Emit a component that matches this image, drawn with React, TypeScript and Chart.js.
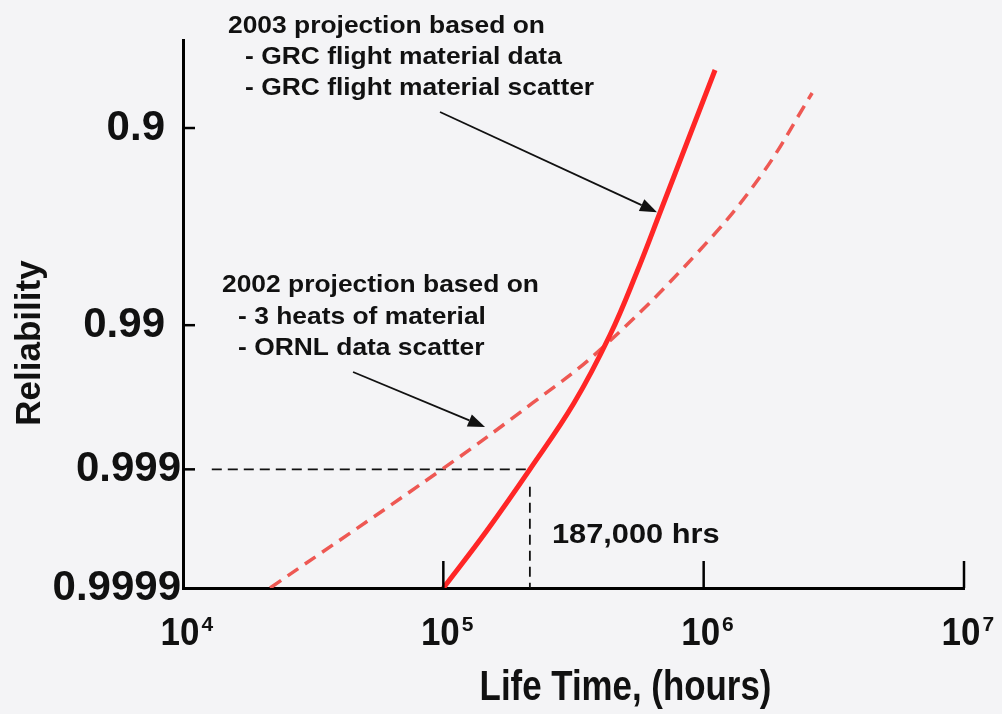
import React, { useEffect, useRef } from "react";
import { Chart, registerables } from "chart.js";

Chart.register(...registerables);

// ---------- data ----------
// 2003 projection (solid red)
const solidHours = [1.0e5, 1.471e5, 2.15e5, 3.176e5, 4.367e5, 5.521e5, 6.857e5, 8.706e5, 1.106e6];
const solidReliability = [0.9999, 0.99968, 0.999, 0.99692, 0.99131, 0.97981, 0.95692, 0.9107, 0.835];
// 2002 projection (dashed red)
const dashedHours = [2.16e4, 9.88e4, 2.21e5, 4.0e5, 9.43e5, 1.646e6, 2.61e6];
const dashedReliability = [0.9999, 0.999, 0.9969, 0.993, 0.9741, 0.9383, 0.8635];

// reference (black dashed) guide lines
const guideHours = [1.29e4, 2.15e5];
const guideReliability = 0.999;
const guideVerticalReliability = [0.99927, 0.9999];

// axes
const xMin = 1e4;
const xMax = 1e7;
const xTickValues = [1e4, 1e5, 1e6, 1e7];
const xTickExponents = ["4", "5", "6", "7"];
const yAxisTopReliability = 0.7925;
const yAxisBottomReliability = 0.9999;
const yTickValues = [0.9, 0.99, 0.999, 0.9999];
const yTickLabels = ["0.9", "0.99", "0.999", "0.9999"];

// annotations
const note2003 = ["2003 projection based on", "- GRC flight material data", "- GRC flight material scatter"];
const note2002 = ["2002 projection based on", "- 3 heats of material", "- ORNL data scatter"];
const markerLabel = "187,000 hrs";
const arrowFromHours = [9.71e4, 4.5e4];
const arrowFromReliability = [0.8843, 0.99498];
const arrowToHours = [6.62e5, 1.446e5];
const arrowToReliability = [0.958, 0.99792];

// ---------- normal probability transform ----------
function probit(p: number): number {
  const a = [-3.969683028665376e1, 2.209460984245205e2, -2.759285104469687e2, 1.38357751867269e2, -3.066479806614716e1, 2.506628277459239];
  const b = [-5.447609879822406e1, 1.615858368580409e2, -1.556989798598866e2, 6.680131188771972e1, -1.328068155288572e1];
  const c = [-7.784894002430293e-3, -3.223964580411365e-1, -2.400758277161838, -2.549732539343734, 4.374664141464968, 2.938163982698783];
  const d = [7.784695709041462e-3, 3.224671290700398e-1, 2.445134137142996, 3.754408661907416];
  const pl = 0.02425;
  const ph = 1 - pl;
  if (p < pl) {
    const q = Math.sqrt(-2 * Math.log(p));
    return (((((c[0] * q + c[1]) * q + c[2]) * q + c[3]) * q + c[4]) * q + c[5]) / ((((d[0] * q + d[1]) * q + d[2]) * q + d[3]) * q + 1);
  }
  if (p <= ph) {
    const q = p - 0.5;
    const r = q * q;
    return ((((((a[0] * r + a[1]) * r + a[2]) * r + a[3]) * r + a[4]) * r + a[5]) * q) / (((((b[0] * r + b[1]) * r + b[2]) * r + b[3]) * r + b[4]) * r + 1);
  }
  const q = Math.sqrt(-2 * Math.log(1 - p));
  return -(((((c[0] * q + c[1]) * q + c[2]) * q + c[3]) * q + c[4]) * q + c[5]) / ((((d[0] * q + d[1]) * q + d[2]) * q + d[3]) * q + 1);
}

const FONT = '"Liberation Sans", Arial, Helvetica, sans-serif';

function drawText(
  ctx: CanvasRenderingContext2D,
  s: string,
  x: number,
  y: number,
  size: number,
  align: CanvasTextAlign = "left",
  hScale = 1,
  baseline: CanvasTextBaseline = "alphabetic",
  rotate = 0
) {
  ctx.save();
  ctx.font = `bold ${size}px ${FONT}`;
  ctx.fillStyle = "#111";
  ctx.textAlign = align;
  ctx.textBaseline = baseline;
  ctx.translate(x, y);
  if (rotate) ctx.rotate(rotate);
  ctx.scale(hScale, 1);
  ctx.fillText(s, 0, 0);
  ctx.restore();
}

function drawArrow(ctx: CanvasRenderingContext2D, x1: number, y1: number, x2: number, y2: number) {
  const ang = Math.atan2(y2 - y1, x2 - x1);
  const L = 17;
  const W = 6.5;
  const bx = x2 - L * Math.cos(ang);
  const by = y2 - L * Math.sin(ang);
  ctx.save();
  ctx.strokeStyle = "#111";
  ctx.fillStyle = "#111";
  ctx.lineWidth = 1.8;
  ctx.beginPath();
  ctx.moveTo(x1, y1);
  ctx.lineTo(bx, by);
  ctx.stroke();
  ctx.beginPath();
  ctx.moveTo(x2, y2);
  ctx.lineTo(bx - W * Math.sin(ang), by + W * Math.cos(ang));
  ctx.lineTo(bx + W * Math.sin(ang), by - W * Math.cos(ang));
  ctx.closePath();
  ctx.fill();
  ctx.restore();
}

const decorPlugin = {
  id: "decor",
  beforeDraw(chart: any) {
    const ctx: CanvasRenderingContext2D = chart.ctx;
    ctx.save();
    ctx.fillStyle = "#f4f4f6";
    ctx.fillRect(0, 0, chart.width, chart.height);
    ctx.restore();
  },
  afterDraw(chart: any) {
    const ctx: CanvasRenderingContext2D = chart.ctx;
    const area = chart.chartArea;
    const xs = chart.scales.x;
    const ys = chart.scales.y;

    // y ticks (inward) and labels
    ctx.save();
    ctx.strokeStyle = "#000";
    ctx.lineWidth = 2.5;
    yTickValues.forEach((r, i) => {
      const py = ys.getPixelForValue(probit(r));
      if (i < yTickValues.length - 1) {
        ctx.beginPath();
        ctx.moveTo(area.left, py);
        ctx.lineTo(area.left + 12, py);
        ctx.stroke();
      }
      const right = yTickLabels[i].length > 4 ? area.left - 2 : area.left - 18;
      drawText(ctx, yTickLabels[i], right, py + 12, 42, "right");
    });

    // x ticks (upward) and labels
    xTickValues.forEach((v, i) => {
      const px = xs.getPixelForValue(v);
      if (i > 0) {
        ctx.beginPath();
        ctx.moveTo(px, area.bottom);
        ctx.lineTo(px, area.bottom - 27);
        ctx.stroke();
      }
      ctx.font = `bold 38px ${FONT}`;
      const w = ctx.measureText("10").width * 0.92;
      const cx = px - 3;
      drawText(ctx, "10", cx, area.bottom + 57, 38, "center", 0.92);
      drawText(ctx, xTickExponents[i], cx + w / 2 + 2, area.bottom + 43, 21, "left");
    });
    ctx.restore();

    // axis titles
    drawText(ctx, "Life Time, (hours)", (area.left + area.right) / 2 + 52, 700, 42, "center", 0.83);
    drawText(ctx, "Reliability", 30, 343, 35, "center", 1, "middle", -Math.PI / 2);

    // annotation notes
    note2003.forEach((s, i) => drawText(ctx, s, i === 0 ? 228 : 245, 33 + i * 31, 24, "left", 1.1));
    note2002.forEach((s, i) => drawText(ctx, s, i === 0 ? 222 : 238, 292 + i * 31.5, 24, "left", 1.1));

    const mx = xs.getPixelForValue(guideHours[1]);
    drawText(ctx, markerLabel, mx + 22, 543, 28, "left", 1.1);

    // arrows
    arrowFromHours.forEach((h, i) => {
      drawArrow(
        ctx,
        xs.getPixelForValue(h),
        ys.getPixelForValue(probit(arrowFromReliability[i])),
        xs.getPixelForValue(arrowToHours[i]),
        ys.getPixelForValue(probit(arrowToReliability[i]))
      );
    });
  },
};

export default function App() {
  const ref = useRef<HTMLCanvasElement | null>(null);

  useEffect(() => {
    if (!ref.current) return;
    const toPts = (xsArr: number[], rsArr: number[]) => xsArr.map((x, i) => ({ x, y: probit(rsArr[i]) }));

    const chart = new Chart(ref.current, {
      type: "line",
      data: {
        datasets: [
          {
            label: "2003 projection",
            data: toPts(solidHours, solidReliability),
            borderColor: "#ff2626",
            borderWidth: 5,
            pointRadius: 0,
            tension: 0.4,
            fill: false,
          },
          {
            label: "2002 projection",
            data: toPts(dashedHours, dashedReliability),
            borderColor: "#ee5853",
            borderWidth: 3.5,
            borderDash: [13, 8],
            pointRadius: 0,
            tension: 0.4,
            fill: false,
          },
          {
            label: "guide h",
            data: guideHours.map((x) => ({ x, y: probit(guideReliability) })),
            borderColor: "#111",
            borderWidth: 1.8,
            borderDash: [10, 6],
            pointRadius: 0,
            fill: false,
          },
          {
            label: "guide v",
            data: guideVerticalReliability.map((r) => ({ x: guideHours[1], y: probit(r) })),
            borderColor: "#111",
            borderWidth: 1.8,
            borderDash: [10, 6],
            pointRadius: 0,
            fill: false,
          },
        ],
      },
      options: {
        responsive: false,
        maintainAspectRatio: false,
        animation: false,
        layout: { padding: { top: 40, right: 38, left: 0, bottom: 0 } },
        plugins: { legend: { display: false }, tooltip: { enabled: false } },
        scales: {
          x: {
            type: "logarithmic",
            min: xMin,
            max: xMax,
            grid: { display: false },
            ticks: { display: false },
            border: { display: true, color: "#000", width: 3 },
            afterBuildTicks: (s: any) => {
              s.ticks = xTickValues.map((v) => ({ value: v }));
            },
            afterFit: (s: any) => {
              s.height = 126;
            },
          },
          y: {
            type: "linear",
            reverse: true,
            min: probit(yAxisTopReliability),
            max: probit(yAxisBottomReliability),
            grid: { display: false },
            ticks: { display: false },
            border: { display: true, color: "#000", width: 3 },
            afterBuildTicks: (s: any) => {
              s.ticks = yTickValues.map((v) => ({ value: probit(v) }));
            },
            afterFit: (s: any) => {
              s.width = 183;
            },
          },
        },
      } as any,
      plugins: [decorPlugin as any],
    });
    return () => chart.destroy();
  }, []);

  return (
    <div style={{ position: "fixed", left: 0, top: 0, width: 1002, height: 714, background: "#f4f4f6" }}>
      <canvas ref={ref} width={1002} height={714} style={{ display: "block" }} />
    </div>
  );
}
